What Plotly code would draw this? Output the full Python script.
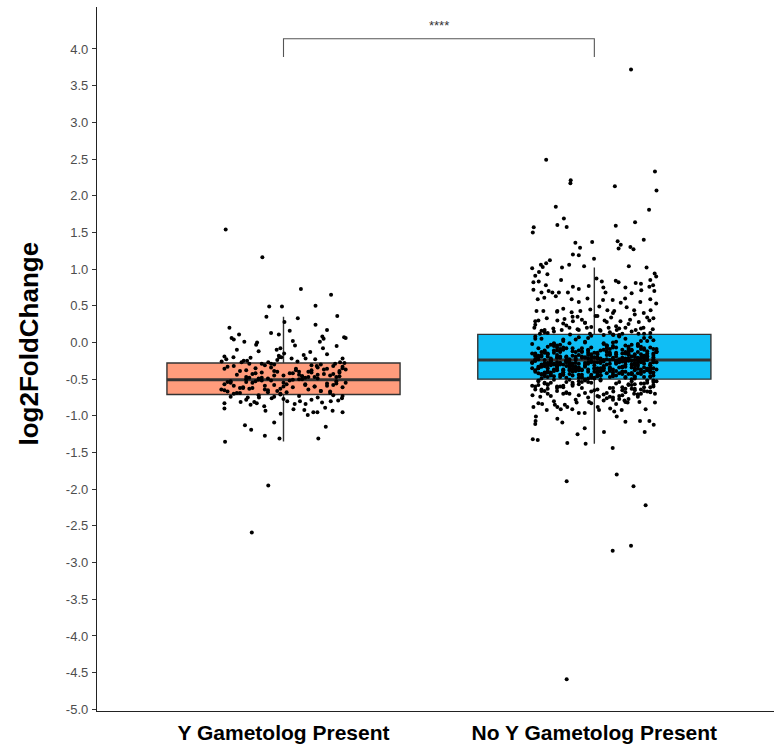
import plotly.graph_objects as go

# ---------------- data ----------------
categories = ["Y Gametolog Present", "No Y Gametolog Present"]
q1 = [-0.71, -0.50]
median = [-0.51, -0.24]
q3 = [-0.28, 0.11]
lower_whisker = [-1.35, -1.38]
upper_whisker = [0.35, 1.02]

y_tick_vals = [4.0, 3.5, 3.0, 2.5, 2.0, 1.5, 1.0, 0.5, 0.0, -0.5, -1.0, -1.5,
               -2.0, -2.5, -3.0, -3.5, -4.0, -4.5, -5.0]
y_tick_text = ["4.0", "3.5", "3.0", "2.5", "2.0", "1.5", "1.0", "0.5", "0.0", "-0.5",
               "-1.0", "-1.5", "-2.0", "-2.5", "-3.0", "-3.5", "-4.0", "-4.5", "-5.0"]

sig_label = "****"
sig_bracket_y = 4.14
sig_bracket_tip = 3.89

# group 1 (Y Gametolog Present): jitter offsets and log2FoldChange values
g1_sparse_dx = [
    -0.186, -0.068, 0.056, 0.153, -0.046, -0.005, 0.103, 0.173, -0.055, 0.046,
    -0.174, 0.103, 0.140, 0.020, 0.003, -0.143, -0.040, -0.015, -0.167, -0.160,
    -0.126, 0.125, 0.129, 0.195, 0.200, -0.085, -0.088, 0.030, 0.037, -0.010,
    -0.022, -0.150, 0.117, 0.127, 0.171, 0.086, -0.015, 0.002, -0.106, -0.161,
    -0.184, -0.199, -0.080, -0.110,
    -0.190, -0.190, -0.138, -0.115, -0.106, -0.094, -0.086, -0.079, -0.062, -0.058,
    -0.038, -0.009, 0.012, 0.032, 0.036, 0.053, 0.067, 0.071, 0.078, 0.096,
    0.109, 0.124, 0.134, 0.152, 0.158, 0.176, 0.188, 0.190, -0.124, -0.104,
    -0.030, 0.136, -0.188, -0.060, -0.013, 0.112, -0.049, -0.102,
    -0.135, -0.128, -0.117, -0.070, -0.049, -0.040, -0.030, -0.020, -0.013, -0.007,
    0.026, 0.065, 0.071, 0.102, 0.107, 0.166, 0.182, 0.190, 0.196, 0.045, -0.190, 0.140,
    -0.17, -0.08, 0.00, 0.05, 0.11, 0.16, -0.12, 0.09, -0.03, 0.19]
g1_sparse_y = [
    1.54, 1.16, 0.73, 0.65, 0.49, 0.49, 0.50, 0.36, 0.35, 0.33,
    0.20, 0.24, 0.17, 0.16, 0.28, 0.11, 0.13, 0.11, 0.06, 0.04,
    0.01, 0.08, 0.05, 0.07, 0.06, 0.00, -0.03, 0.02, -0.04, -0.08,
    -0.10, -0.10, 0.01, -0.08, -0.05, -0.13, -0.18, -0.15, -0.21, -0.20,
    -0.23, -0.26, -0.12, -0.29,
    -0.83, -0.90, -0.81, -0.75, -0.85, -0.81, -0.83, -0.75, -0.87, -0.93,
    -0.76, -0.97, -0.80, -0.91, -0.84, -0.80, -0.92, -0.84, -0.99, -0.95,
    -0.95, -0.82, -0.89, -0.80, -0.93, -0.79, -0.76, -0.95, -1.13, -1.19,
    -1.09, -1.15, -1.355, -1.27, -1.31, -1.31, -1.95, -2.59,
    -0.27, -0.25, -0.25, -0.29, -0.27, -0.29, -0.30, -0.24, -0.20, -0.20,
    -0.22, -0.17, -0.22, -0.23, -0.32, -0.29, -0.27, -0.22, -0.28, -0.26, -0.19, -0.16,
    -0.74, -0.72, -0.77, -0.73, -0.75, -0.72, -0.78, -0.78, -0.74, -0.73]
g1_core_dx = [
    -0.18, 0.07, -0.03, 0.15, -0.12, 0.02, 0.19, -0.07, 0.11, -0.16,
    0.04, -0.10, 0.17, -0.01, 0.09, -0.19, 0.13, -0.05, 0.06, -0.14,
    0.00, 0.18, -0.09, 0.12, -0.17, 0.03, -0.06, 0.16, -0.11, 0.08,
    -0.02, 0.14, -0.15, 0.05, -0.08, 0.20, -0.13, 0.10, -0.04, 0.01,
    -0.19, 0.16, -0.07, 0.12, -0.16, 0.06, -0.01, 0.18, -0.12, 0.03,
    0.09, -0.05, 0.14, -0.18, 0.00, 0.11, -0.10, 0.19, -0.03, 0.07,
    -0.14, 0.04, -0.09, 0.15, -0.20, 0.02, 0.17, -0.06, 0.10, -0.12,
    0.13, -0.02, 0.08, -0.17, 0.05, -0.11, 0.19, -0.04, 0.01, -0.15,
    0.16, -0.08, 0.11, -0.13, 0.06, -0.01, 0.18, -0.18, 0.09, -0.05,
    0.03, -0.10, 0.14, -0.16, 0.07, -0.07, 0.12, -0.03, 0.17, -0.14,
    0.00, -0.19, 0.10, 0.05, -0.09, 0.15, -0.12, 0.20, -0.06, 0.08]
g1_core_y = [
    -0.33, -0.58, -0.45, -0.67, -0.38, -0.52, -0.61, -0.41, -0.49, -0.70,
    -0.36, -0.55, -0.47, -0.63, -0.31, -0.57, -0.43, -0.68, -0.50, -0.39,
    -0.60, -0.46, -0.35, -0.66, -0.53, -0.42, -0.59, -0.32, -0.48, -0.64,
    -0.40, -0.56, -0.69, -0.44, -0.51, -0.37, -0.62, -0.47, -0.34, -0.57,
    -0.65, -0.43, -0.52, -0.30, -0.59, -0.46, -0.71, -0.39, -0.54, -0.61,
    -0.41, -0.49, -0.36, -0.67, -0.55, -0.44, -0.62, -0.33, -0.58, -0.48,
    -0.69, -0.38, -0.53, -0.45, -0.64, -0.42, -0.56, -0.31, -0.60, -0.50,
    -0.37, -0.66, -0.47, -0.55, -0.40, -0.63, -0.35, -0.52, -0.68, -0.44,
    -0.58, -0.49, -0.34, -0.61, -0.46, -0.70, -0.41, -0.54, -0.38, -0.65,
    -0.51, -0.43, -0.59, -0.32, -0.57, -0.48, -0.66, -0.39, -0.53, -0.62,
    -0.45, -0.36, -0.60, -0.50, -0.42, -0.69, -0.47, -0.55, -0.64, -0.40]

# group 2 (No Y Gametolog Present)
g2_high_dx = [
    0.118, -0.155, -0.076, -0.077, 0.195, 0.066, 0.200, -0.124, 0.176, -0.098,
    -0.195, -0.198, -0.119, -0.089, 0.069, 0.131, -0.061, -0.046, -0.007, 0.075,
    0.085, 0.078, 0.116, 0.126, 0.159,
    -0.069, -0.050, -0.143, -0.172, -0.166, -0.200, -0.155, -0.081, -0.104, -0.033,
    -0.001, 0.111, 0.168, 0.194, 0.199, -0.190, -0.178, -0.151, -0.196, -0.179,
    -0.156, -0.107, 0.007, 0.024, 0.069, 0.078, 0.133, 0.150, 0.180, 0.189,
    -0.196, -0.170, -0.147, -0.135, -0.114, -0.085, -0.069, -0.050, -0.018, 0.029,
    0.036, 0.100, 0.120, 0.151, 0.177, 0.193, -0.182, -0.161, -0.124, -0.073,
    -0.050, -0.022, 0.028, 0.059, 0.085, 0.099, 0.148, 0.180, 0.199, -0.186,
    -0.164, -0.119, -0.100, -0.073, -0.045, -0.013, 0.016, 0.042, 0.064, 0.104,
    0.128, 0.159, 0.181, -0.190, -0.153, -0.119, -0.096, -0.069, -0.054, -0.030,
    0.004, 0.033, 0.054, 0.084, 0.115, 0.143, 0.177, -0.193, -0.160, -0.132,
    -0.105, -0.080, -0.054, -0.024, 0.018, 0.046, 0.072, 0.100, 0.133, 0.158,
    0.188, -0.175, -0.078, -0.014, 0.061, 0.142,
    -0.16, 0.07, -0.04, 0.18, -0.10, 0.13, 0.02, -0.19, 0.09, -0.07,
    0.15, -0.13, 0.04, -0.01, 0.19, -0.15, 0.11, -0.05, 0.06, -0.18,
    0.16, -0.09, 0.01, 0.12, -0.12, 0.08, -0.03, 0.17, -0.17, 0.05]
g2_high_y = [
    3.72, 2.49, 2.21, 2.17, 2.33, 2.13, 2.07, 1.85, 1.81, 1.69,
    1.57, 1.50, 1.60, 1.575, 1.59, 1.64, 1.36, 1.29, 1.37, 1.38,
    1.33, 1.28, 1.30, 1.27, 1.40,
    1.20, 1.19, 1.12, 1.06, 1.03, 1.01, 1.08, 1.06, 1.02, 1.04,
    1.14, 1.04, 1.02, 0.94, 0.90, 0.91, 0.96, 0.93, 0.82, 0.83,
    0.78, 0.85, 0.87, 0.83, 0.84, 0.82, 0.81, 0.80, 0.85, 0.78,
    0.72, 0.68, 0.70, 0.68, 0.68, 0.68, 0.76, 0.73, 0.77, 0.75,
    0.68, 0.75, 0.67, 0.71, 0.76, 0.70, 0.59, 0.61, 0.63, 0.59,
    0.55, 0.60, 0.58, 0.58, 0.54, 0.60, 0.55, 0.59, 0.53, 0.43,
    0.43, 0.43, 0.46, 0.41, 0.43, 0.45, 0.49, 0.44, 0.43, 0.48,
    0.44, 0.40, 0.44, 0.29, 0.33, 0.30, 0.32, 0.29, 0.35, 0.27,
    0.36, 0.30, 0.34, 0.29, 0.31, 0.28, 0.30, 0.20, 0.17, 0.19,
    0.17, 0.20, 0.18, 0.20, 0.17, 0.20, 0.17, 0.20, 0.17, 0.20,
    0.18, 0.12, 0.11, 0.12, 0.10, 0.12,
    0.14, 0.22, 0.31, 0.13, 0.26, 0.38, 0.16, 0.24, 0.12, 0.35,
    0.19, 0.15, 0.28, 0.21, 0.33, 0.13, 0.25, 0.17, 0.40, 0.30,
    0.12, 0.23, 0.36, 0.15, 0.42, 0.19, 0.27, 0.34, 0.16, 0.14]
g2_core_dx = [
    -0.19, 0.06, -0.04, 0.17, -0.11, 0.02, 0.13, -0.15, 0.09, -0.07,
    0.19, -0.01, -0.17, 0.11, 0.04, -0.09, 0.15, -0.13, 0.00, 0.08,
    -0.05, 0.18, -0.20, 0.03, 0.12, -0.10, 0.07, -0.16, 0.14, -0.02,
    0.10, -0.14, 0.05, -0.06, 0.16, -0.18, 0.01, 0.20, -0.08, 0.12,
    -0.12, 0.08, -0.03, 0.14, -0.19, 0.04, -0.07, 0.18, -0.15, 0.00,
    0.06, -0.10, 0.17, -0.01, 0.11, -0.17, 0.03, -0.05, 0.13, -0.13,
    0.15, -0.02, -0.16, 0.09, 0.19, -0.08, 0.02, -0.12, 0.07, -0.19,
    -0.04, 0.12, -0.11, 0.18, 0.05, -0.14, 0.10, -0.06, 0.16, 0.01,
    -0.18, 0.14, -0.09, 0.03, 0.20, -0.03, 0.08, -0.15, 0.11, -0.07,
    0.04, -0.12, 0.17, -0.20, 0.07, -0.01, 0.13, -0.10, 0.00, 0.16,
    -0.06, 0.10, -0.17, 0.02, 0.15, -0.13, 0.06, -0.04, 0.19, -0.09,
    0.12, -0.16, 0.01, 0.09, -0.11, 0.18, -0.02, 0.05, -0.19, 0.14,
    -0.08, 0.03, -0.14, 0.16, -0.05, 0.11, -0.18, 0.07, 0.00, -0.10,
    0.17, -0.03, 0.08, -0.15, 0.13, -0.07, 0.04, 0.19, -0.12, 0.02,
    -0.01, -0.17, 0.10, -0.09, 0.15, 0.06, -0.14, 0.12, -0.04, 0.18,
    -0.20, 0.05, -0.06, 0.14, -0.11, 0.01, 0.09, -0.16, 0.16, -0.02,
    0.07, -0.13, 0.19, -0.08, 0.03, -0.18, 0.12, -0.05, 0.10, -0.10,
    0.15, 0.00, -0.15, 0.06, -0.03, 0.17, -0.12, 0.02, 0.13, -0.19,
    -0.07, 0.11, -0.01, 0.18, -0.16, 0.08, -0.10, 0.04, -0.14, 0.20,
    0.01, -0.04, 0.14, -0.17, 0.09, -0.09, 0.16, -0.02, 0.05, -0.12,
    0.19, -0.06, 0.03, -0.13, 0.12, -0.19, 0.07, 0.10, -0.08, -0.15,
    0.02, 0.17, -0.11, 0.06, -0.03, 0.14, -0.17, 0.00, 0.11, -0.05,
    -0.16, 0.09, -0.09, 0.18, 0.04, -0.12, 0.15, -0.01, 0.08, -0.18,
    0.13, -0.07, 0.01, -0.14, 0.19, -0.04, 0.10, -0.10, 0.05, 0.16,
    -0.13, 0.03, -0.19, 0.12, -0.06, 0.07, -0.02, 0.17, -0.11, 0.00,
    0.09, -0.15, 0.14, -0.08, 0.02, 0.20, -0.16, 0.06, -0.03, 0.11,
    -0.10, 0.16, -0.05, 0.04, -0.17, 0.13, -0.01, 0.08, -0.13, 0.18,
    0.05, -0.20, 0.10, -0.07, 0.15, -0.11, 0.01, -0.14, 0.19, -0.04,
    -0.09, 0.12, 0.03, -0.18, 0.07, -0.02, 0.17, -0.12, 0.00, 0.14,
    0.06, -0.06, -0.15, 0.11, -0.10, 0.18, 0.02, -0.19, 0.09, -0.03,
    0.16, -0.13, 0.04, -0.08, 0.13, -0.01, -0.17, 0.10, 0.07, -0.11,
    -0.05, 0.19, -0.14, 0.01, 0.12, -0.09, 0.05, -0.16, 0.15, -0.02,
    0.08, -0.12, 0.17, -0.04, -0.18, 0.03, 0.11, -0.07, 0.14, 0.00,
    0.13, -0.18, 0.04, -0.09, 0.19, -0.02, 0.10, -0.14, 0.07, -0.06,
    -0.16, 0.15, -0.04, 0.02, -0.12, 0.18, -0.08, 0.11, -0.19, 0.05,
    0.09, -0.11, 0.16, -0.01, -0.15, 0.06, 0.12, -0.07, 0.20, -0.13,
    -0.03, 0.14, -0.17, 0.08, -0.10, 0.01, 0.17, -0.05, 0.11, -0.18,
    0.03, -0.14, 0.19, -0.08, 0.07, -0.02, 0.13, -0.16, 0.10, -0.11,
    0.15, -0.06, 0.00, -0.19, 0.09, 0.16, -0.12, 0.05, -0.04, 0.18,
    -0.15, 0.12, -0.09, 0.02, -0.17, 0.14, -0.01, 0.08, -0.13, 0.19,
    0.06, -0.07, 0.11, -0.20, 0.04, -0.10, 0.17, -0.03, 0.13, -0.14,
    -0.05, 0.10, -0.16, 0.07, 0.15, -0.08, 0.01, -0.12, 0.18, -0.02,
    0.12, -0.18, 0.05, -0.11, 0.16, -0.06, 0.09, -0.15, 0.03, 0.20]
g2_core_y = [
    0.08, -0.21, -0.37, 0.02, -0.13, -0.45, -0.28, -0.06, -0.33, -0.18,
    -0.41, -0.25, 0.05, -0.09, -0.30, -0.48, -0.16, -0.02, -0.35, -0.23,
    -0.11, -0.39, -0.27, 0.10, -0.19, -0.44, -0.07, -0.32, -0.24, -0.14,
    -0.47, -0.03, -0.29, -0.36, 0.06, -0.20, -0.42, -0.12, -0.26, -0.50,
    -0.17, -0.34, 0.00, -0.22, -0.40, -0.08, -0.31, -0.46, -0.15, -0.27,
    -0.05, -0.38, -0.24, 0.09, -0.43, -0.19, -0.10, -0.29, -0.35, -0.01,
    -0.26, -0.49, -0.14, -0.21, 0.03, -0.33, -0.40, -0.07, -0.25, -0.18,
    -0.44, -0.11, -0.30, 0.07, -0.37, -0.23, -0.04, -0.28, -0.47, -0.16,
    -0.20, -0.42, -0.08, -0.32, -0.13, 0.01, -0.26, -0.39, -0.22, -0.45,
    -0.12, -0.27, -0.36, -0.02, -0.19, -0.48, -0.24, 0.04, -0.31, -0.10,
    -0.34, -0.15, -0.43, -0.22, -0.06, -0.29, 0.11, -0.38, -0.17, -0.25,
    -0.03, -0.46, -0.20, -0.33, -0.09, -0.41, -0.27, -0.14, 0.05, -0.36,
    -0.23, -0.01, -0.31, -0.18, -0.44, -0.12, -0.35, -0.26, -0.49, -0.07,
    -0.38, -0.21, 0.08, -0.28, -0.16, -0.40, -0.04, -0.24, -0.33, -0.11,
    -0.46, -0.30, -0.13, -0.19, 0.02, -0.37, -0.25, -0.42, -0.08, -0.29,
    -0.15, -0.35, -0.22, -0.05, -0.47, -0.27, -0.10, -0.32, -0.20, 0.06,
    -0.39, -0.14, -0.26, -0.43, -0.02, -0.23, -0.34, -0.17, -0.48, -0.30,
    -0.09, -0.21, -0.41, 0.00, -0.28, -0.12, -0.36, -0.45, -0.19, -0.25,
    -0.32, -0.06, -0.18, -0.39, -0.24, 0.09, -0.44, -0.13, -0.29, -0.37,
    -0.22, -0.47, -0.03, -0.31, -0.15, -0.26, -0.40, -0.10, -0.34, -0.20,
    -0.27, 0.04, -0.38, -0.11, -0.43, -0.23, -0.16, -0.30, -0.01, -0.35,
    -0.45, -0.19, -0.28, -0.07, -0.33, -0.21, -0.49, -0.14, -0.25, 0.07,
    -0.12, -0.40, -0.24, -0.31, -0.17, -0.04, -0.37, -0.27, -0.42, -0.20,
    -0.30, -0.08, -0.46, -0.22, -0.35, -0.13, -0.26, 0.02, -0.39, -0.18,
    -0.05, -0.33, -0.15, -0.43, -0.24, -0.29, -0.11, -0.36, -0.21, -0.48,
    -0.26, -0.19, -0.02, -0.38, -0.28, -0.09, -0.44, -0.23, -0.31, -0.14,
    -0.41, -0.25, -0.34, -0.06, -0.17, -0.47, -0.21, 0.10, -0.30, -0.37,
    -0.16, -0.28, -0.40, -0.12, -0.22, -0.03, -0.35, -0.26, -0.45, -0.19,
    -0.32, -0.10, -0.24, -0.42, 0.01, -0.29, -0.15, -0.38, -0.20, -0.27,
    -0.44, -0.13, -0.31, -0.23, -0.37, -0.07, -0.25, -0.18, -0.34, -0.50,
    -0.21, -0.39, -0.04, -0.28, -0.46, -0.16, -0.33, 0.05, -0.26, -0.11,
    -0.36, -0.23, -0.43, -0.14, -0.30, -0.20, -0.09, -0.41, -0.27, -0.17,
    -0.25, -0.32, -0.19, -0.48, -0.08, -0.35, -0.22, -0.29, -0.13, -0.40,
    -0.31, -0.18, -0.42, -0.26, -0.09, -0.37, -0.22, -0.45, -0.14, -0.33,
    -0.28, -0.40, -0.12, -0.35, -0.21, -0.47, -0.30, -0.16, -0.38, -0.24,
    -0.43, -0.19, -0.34, -0.07, -0.29, -0.41, -0.25, -0.36, -0.13, -0.46,
    -0.20, -0.32, -0.44, -0.27, -0.10, -0.39, -0.23, -0.48, -0.17, -0.35,
    -0.26, -0.41, -0.15, -0.30, -0.45, -0.22, -0.38, -0.11, -0.33, -0.28,
    -0.43, -0.19, -0.36, -0.25, -0.40, -0.08, -0.31, -0.47, -0.21, -0.34,
    -0.16, -0.42, -0.27, -0.39, -0.13, -0.30, -0.44, -0.24, -0.37, -0.20,
    -0.46, -0.29, -0.06, -0.35, -0.23, -0.41, -0.18, -0.32, -0.49, -0.26,
    -0.38, -0.14, -0.43, -0.28, -0.21, -0.36, -0.45, -0.11, -0.31, -0.40,
    -0.25, -0.33, -0.17, -0.44, -0.29, -0.39, -0.22, -0.47, -0.35, -0.27]
g2_low_dx = [
    -0.18, 0.09, -0.05, 0.15, -0.12, 0.03, 0.19, -0.09, 0.12, -0.15,
    0.06, -0.02, 0.17, -0.19, 0.10, -0.07, 0.01, 0.14, -0.13, 0.08,
    -0.04, 0.18, -0.16, 0.05, -0.10, 0.13, -0.01, 0.20, -0.08, 0.11,
    -0.17, 0.02, 0.16, -0.06, 0.07, -0.14, 0.12, -0.03, 0.19, -0.11,
    0.04, -0.18, 0.15, -0.08, 0.09, -0.01, 0.17, -0.13, 0.06, -0.20,
    0.10, -0.05, 0.14, -0.15, 0.00, 0.18, -0.10, 0.07, -0.16, 0.13,
    -0.03, 0.11, -0.12, 0.16, -0.07, 0.03, 0.19, -0.17, 0.08, -0.09,
    -0.14, 0.05, 0.17, -0.09, 0.11, -0.19, 0.02, 0.14, -0.05, 0.08,
    -0.16, 0.19, -0.02, 0.12, -0.12, 0.04, 0.16, -0.07, 0.09, -0.18,
    0.01, 0.13, -0.10, 0.18, -0.04, 0.06, -0.15, 0.10, -0.01, 0.15,
    -0.199, -0.174, -0.150, -0.196, -0.180, -0.168, -0.153, -0.127, -0.119, -0.108,
    -0.095, -0.087, -0.071, -0.057, -0.050, -0.031, -0.017, 0.011, 0.015, 0.051,
    0.064, 0.072, 0.088, 0.100, 0.097, 0.107, 0.145, 0.165, 0.147, 0.177,
    0.191, -0.188, -0.189, -0.190, -0.119, -0.103, -0.031, -0.054, 0.031, 0.162,
    -0.198, -0.182, -0.087, -0.028, 0.059, 0.015, 0.061, 0.195, 0.195, 0.128,
    0.072, -0.089, 0.126, 0.165, 0.118, 0.059, -0.089]
g2_low_y = [
    -0.53, -0.61, -0.72, -0.56, -0.66, -0.79, -0.52, -0.69, -0.58, -0.63,
    -0.75, -0.54, -0.67, -0.60, -0.81, -0.57, -0.64, -0.71, -0.51, -0.77,
    -0.62, -0.68, -0.55, -0.74, -0.59, -0.65, -0.83, -0.53, -0.70, -0.57,
    -0.66, -0.52, -0.61, -0.78, -0.56, -0.73, -0.63, -0.69, -0.54, -0.60,
    -0.76, -0.58, -0.64, -0.51, -0.72, -0.67, -0.55, -0.80, -0.62, -0.59,
    -0.68, -0.53, -0.74, -0.57, -0.65, -0.61, -0.70, -0.84, -0.56, -0.63,
    -0.52, -0.77, -0.60, -0.66, -0.55, -0.71, -0.58, -0.64, -0.73, -0.54,
    -0.55, -0.62, -0.52, -0.68, -0.58, -0.64, -0.51, -0.71, -0.57, -0.54,
    -0.66, -0.60, -0.75, -0.53, -0.62, -0.69, -0.56, -0.59, -0.65, -0.52,
    -0.73, -0.57, -0.61, -0.67, -0.54, -0.78, -0.58, -0.63, -0.55, -0.70,
    -0.72, -0.74, -0.70, -0.88, -0.83, -0.84, -0.92, -0.85, -0.88, -0.91,
    -0.85, -0.88, -0.91, -0.82, -0.96, -0.96, -0.81, -0.88, -0.92, -0.90,
    -0.94, -1.01, -0.92, -1.08, -0.79, -0.82, -0.81, -0.91, -1.07, -1.07,
    -1.12, -1.01, -1.07, -1.11, -1.04, -1.09, -1.17, -1.25, -1.22, -1.22,
    -1.32, -1.33, -1.37, -1.38, -1.44, -0.74, -0.67, -0.82, -0.70, -0.70,
    -1.80, -1.89, -1.96, -2.22, -2.77, -2.84, -4.59]

# ---------------- figure ----------------
line_col = "#333333"
fills = ["#FF9C7C", "#10BEF5"]

fig = go.Figure()

for i, cat in enumerate(categories):
    fig.add_trace(go.Box(
        x=[i], q1=[q1[i]], median=[median[i]], q3=[q3[i]],
        lowerfence=[lower_whisker[i]], upperfence=[upper_whisker[i]],
        width=0.75, whiskerwidth=0, fillcolor=fills[i],
        line=dict(color=line_col, width=1.4), boxpoints=False,
        showlegend=False, hoverinfo="skip"))
    fig.add_trace(go.Scatter(
        x=[i - 0.375, i + 0.375], y=[median[i], median[i]], mode="lines",
        line=dict(color=line_col, width=3), showlegend=False, hoverinfo="skip"))

groups = [
    (g1_sparse_dx + g1_core_dx, g1_sparse_y + g1_core_y),
    (g2_high_dx + g2_core_dx + g2_low_dx, g2_high_y + g2_core_y + g2_low_y),
]
for i, (dx, yy) in enumerate(groups):
    fig.add_trace(go.Scatter(
        x=[i + d for d in dx], y=yy, mode="markers",
        marker=dict(color="black", size=4, line=dict(width=0)),
        showlegend=False, hoverinfo="skip"))

# significance bracket
fig.add_shape(type="path",
              path=f"M 0 {sig_bracket_tip} L 0 {sig_bracket_y} L 1 {sig_bracket_y} L 1 {sig_bracket_tip}",
              xref="x", yref="y", line=dict(color="#555555", width=1.1))
fig.add_annotation(x=0.5, y=sig_bracket_y, xref="x", yref="y", text=sig_label,
                   showarrow=False, yanchor="bottom", yshift=4,
                   font=dict(family="Liberation Sans", size=13, color="#333333"))

# y-axis title
fig.add_annotation(x=-0.1019, y=0.522, xref="paper", yref="paper", text="<b>log2FoldChange</b>",
                   textangle=-90, showarrow=False, xanchor="center", yanchor="middle",
                   font=dict(family="Liberation Sans", size=26, color="black"))

fig.update_layout(
    width=774, height=749,
    margin=dict(l=97, r=0, t=7, b=38),
    paper_bgcolor="white", plot_bgcolor="white",
    font=dict(family="Liberation Sans"),
    xaxis=dict(range=[-0.6, 1.578], tickvals=[0, 1],
               ticktext=[f"<b>{c}</b>" for c in categories],
               showgrid=False, zeroline=False, showline=True, linecolor="#222222",
               linewidth=1.3, ticks="", tickfont=dict(size=21, color="black"),
               ticklabelstandoff=3),
    yaxis=dict(range=[-5.023, 4.572], tickvals=y_tick_vals, ticktext=y_tick_text,
               showgrid=False, zeroline=False, showline=True, linecolor="#222222",
               linewidth=1.3, ticks="outside", ticklen=4, tickcolor="#333333",
               tickwidth=1, tickfont=dict(size=13, color="#4D4D4D"),
               ticklabelstandoff=1),
)

fig.write_html("out.html")
